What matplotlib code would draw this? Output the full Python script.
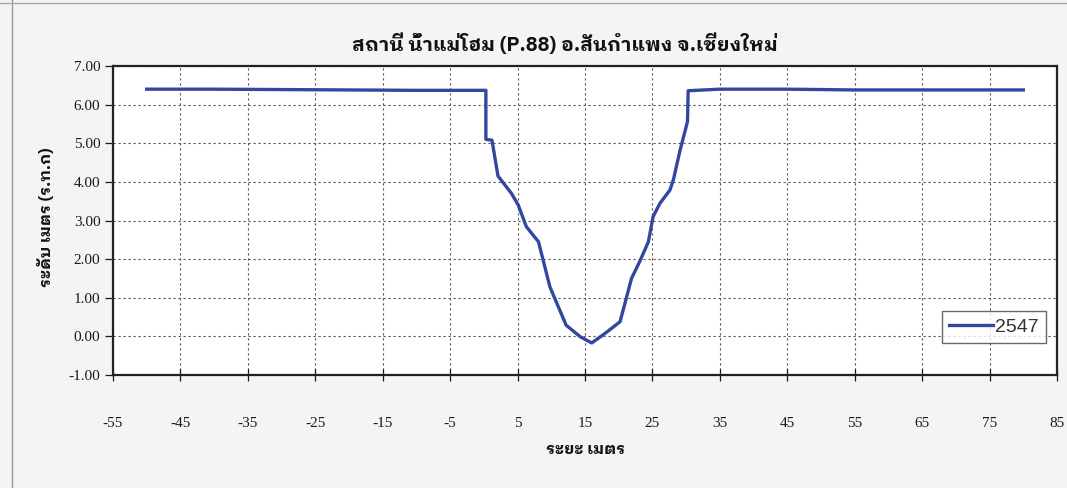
import matplotlib
matplotlib.use("Agg")
import matplotlib.pyplot as plt
from matplotlib.lines import Line2D
from matplotlib.ticker import FormatStrFormatter

plt.rcParams["axes.unicode_minus"] = False

# ---- data ----
title = "สถานี น้ำแม่โฮม (P.88) อ.สันกำแพง จ.เชียงใหม่"
xlabel = "ระยะ เมตร"
ylabel = "ระดับ เมตร (ร.ท.ก)"
series_name = "2547"
distance = [-50, -40, -30, -20, -10, 0.3, 0.3, 1.2, 2.1, 4.1, 5.1, 6.3, 8.1, 9.8,
            12.2, 14.3, 16.0, 18.0, 20.2, 21.9, 23.2, 24.4, 25.1, 26.1, 27.6,
            28.1, 29.1, 30.2, 30.3, 35, 45, 55, 65, 80]
elevation = [6.40, 6.40, 6.39, 6.38, 6.37, 6.37, 5.10, 5.08, 4.15, 3.70, 3.40,
             2.84, 2.45, 1.28, 0.29, -0.01, -0.17, 0.08, 0.38, 1.50, 1.97, 2.45,
             3.10, 3.44, 3.79, 4.05, 4.82, 5.56, 6.36, 6.40, 6.40, 6.38, 6.38, 6.38]
xticks = list(range(-55, 86, 10))
yticks = [-1, 0, 1, 2, 3, 4, 5, 6, 7]

thai = ["IBM Plex Sans Thai Looped", "Loma", "Noto Sans Thai Looped", "DejaVu Sans"]
serif = ["Liberation Serif", "DejaVu Serif"]

fig = plt.figure(figsize=(10.67, 4.88), dpi=100, facecolor="#f4f4f3")
ax = fig.add_axes([113 / 1067, 1 - 375 / 488, 944 / 1067, 309 / 488])
ax.set_facecolor("white")

ax.plot(distance, elevation, color="#33479f", lw=2.4, label=series_name,
        solid_joinstyle="round")

ax.set_xlim(-55, 85)
ax.set_ylim(-1, 7)
ax.set_xticks(xticks)
ax.set_yticks(yticks)
ax.yaxis.set_major_formatter(FormatStrFormatter("%.2f"))
ax.grid(True, color="#555555", lw=0.8, linestyle=(0, (2, 2.5)))

for s in ax.spines.values():
    s.set_color("#222222")
    s.set_linewidth(1.6)

ax.tick_params(axis="x", direction="inout", length=9, width=0.9, pad=26,
               colors="#1a1a1a", labelsize=11)
ax.tick_params(axis="y", direction="out", length=6, width=0.9, pad=3,
               colors="#1a1a1a", labelsize=11)
for lab in ax.get_xticklabels() + ax.get_yticklabels():
    lab.set_fontfamily(serif)

fig.text(565 / 1067, 1 - 44 / 488, title, ha="center", va="center",
         fontsize=14.3, fontweight="bold", family=thai, color="#111111")
fig.text(586 / 1067, 1 - 449 / 488, xlabel, ha="center", va="center",
         fontsize=11.5, fontweight="bold", family=thai, color="#111111")
fig.text(45 / 1067, 1 - 217 / 488, ylabel, ha="center", va="center",
         rotation=90, fontsize=11.5, fontweight="bold", family=thai,
         color="#111111")

leg = ax.legend(loc="lower right", bbox_to_anchor=(0.988, 0.105),
                frameon=True, fancybox=False, edgecolor="#444444",
                prop={"family": ["Liberation Sans", "DejaVu Sans"], "size": 14},
                handlelength=2.3, handletextpad=0.1, borderpad=0.35,
                borderaxespad=0)
leg.get_frame().set_linewidth(1.0)
for t in leg.get_texts():
    t.set_color("#333333")

# faint scan frame of the page
fig.add_artist(Line2D([12 / 1067, 12 / 1067], [0, 1], transform=fig.transFigure,
                      color="#9a9a9a", lw=1.0))
fig.add_artist(Line2D([0, 1], [1 - 3 / 488, 1 - 3 / 488], transform=fig.transFigure,
                      color="#aaaaaa", lw=1.0))

fig.savefig("out.png", dpi=100, facecolor=fig.get_facecolor())
